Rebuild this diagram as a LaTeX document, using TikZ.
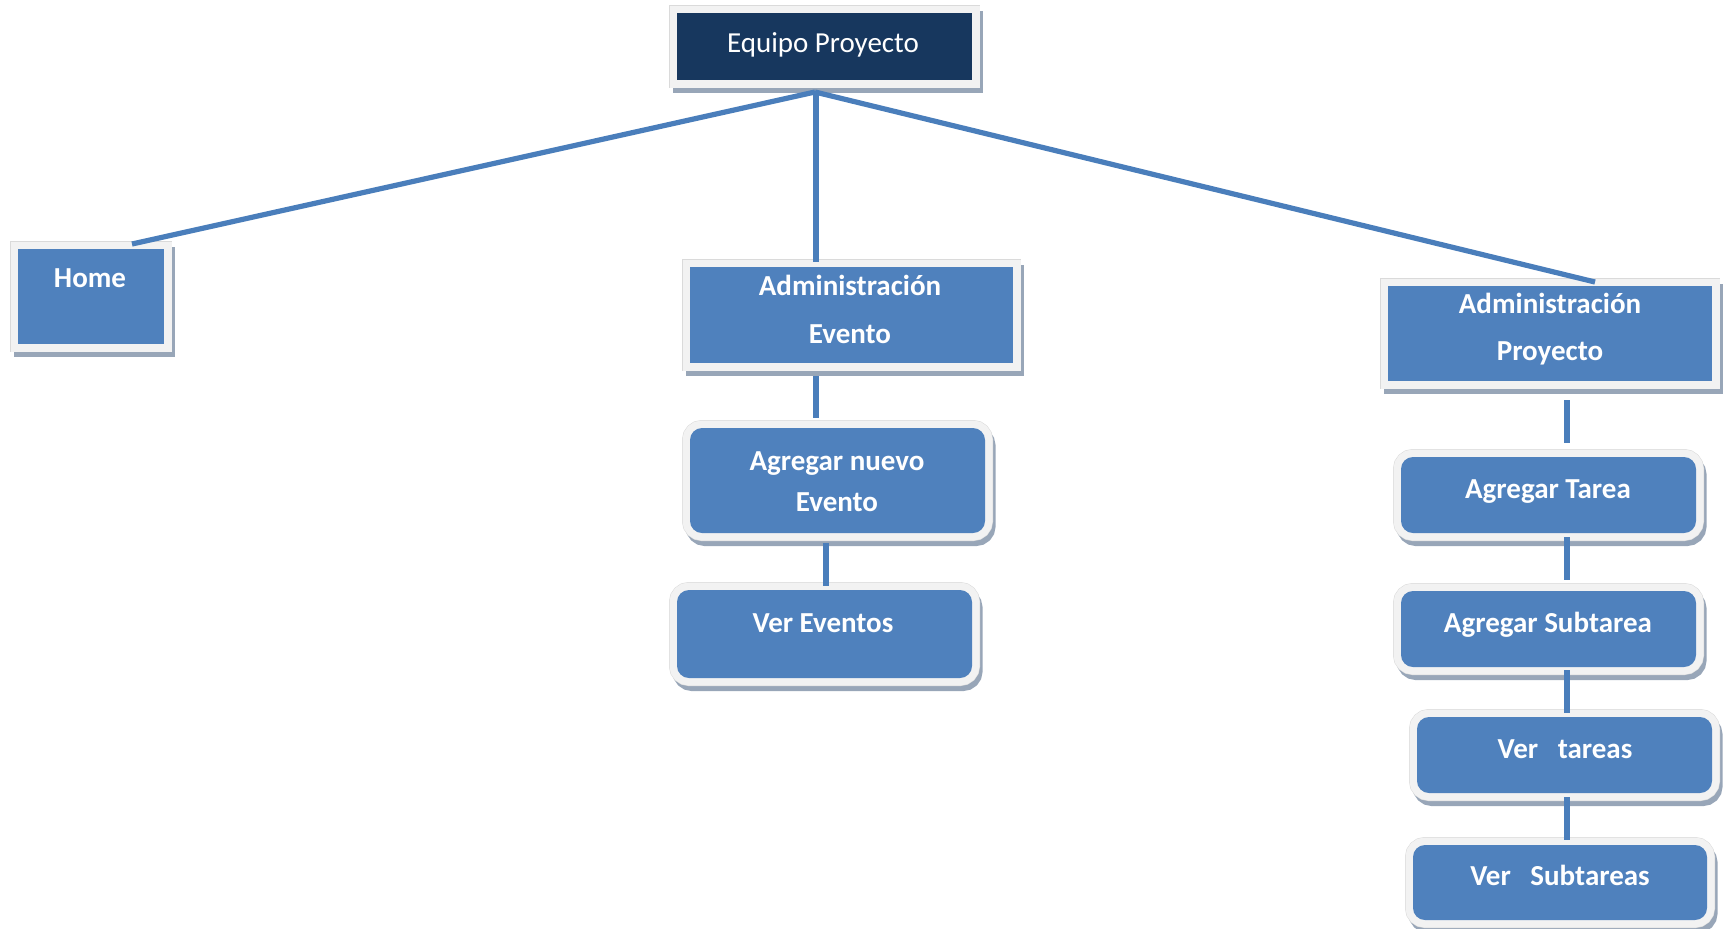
\documentclass[tikz,border=0pt]{standalone}
\usepackage{fontspec}
\setmainfont{Carlito}
\usetikzlibrary{fit,shadows,calc}

\definecolor{navy}{HTML}{17375E}
\definecolor{boxblue}{HTML}{4F81BD}
\definecolor{framegray}{HTML}{F2F2F2}
\definecolor{rimgray}{HTML}{DADADA}
\definecolor{shadowc}{HTML}{98A6B8}
\definecolor{linkc}{HTML}{4A7EBB}

\tikzset{
  panel/.style={rectangle, inner sep=0pt, outer sep=0pt, fill=#1,
    general shadow={fill=shadowc, draw=shadowc, line width=7.5pt,
      shadow xshift=1.5pt, shadow yshift=-2.75pt},
    preaction={draw=rimgray, line width=8pt},
    preaction={draw=framegray, line width=7.5pt}},
  panel/.default=boxblue,
  soft/.style={rounded corners=6pt},
  caption/.style={text=white, font=\bfseries\fontsize{14.5}{24}\selectfont,
    align=center, anchor=base, inner sep=0pt},
  link/.style={draw=linkc, line width=2.6pt},
}

\begin{document}
\begin{tikzpicture}[x=0.5pt, y=-0.5pt]
\useasboundingbox (0,0) rectangle (1726,928);

% boxes
\node[panel=navy, fit={(677,13) (972,80)}] (top) {};
\node[panel, fit={(18,249) (164,344)}] (home) {};
\node[panel, fit={(690,267) (1013,363)}] (admEv) {};
\node[panel, fit={(1388,286) (1712,381)}] (admPr) {};
\node[panel, soft, fit={(690,428) (985,533)}] (addEv) {};
\node[panel, soft, fit={(677,590) (972,678)}] (verEv) {};
\node[panel, soft, fit={(1401,457) (1696,533)}] (addT) {};
\node[panel, soft, fit={(1401,591) (1696,667)}] (addS) {};
\node[panel, soft, fit={(1417,717) (1712,793)}] (verT) {};
\node[panel, soft, fit={(1413,845) (1707,920)}] (verS) {};

% labels (base anchor = baseline of the last line)
\node[caption, font=\fontsize{14.5}{24}\selectfont] (topT) at (823,52) {Equipo Proyecto};
\node[caption] (homeT) at (90,287) {Home};
\node[caption, font=\bfseries\fontsize{14.5}{24}\selectfont] (admEvT) at (850,343) {Administración\\Evento};
\node[caption, font=\bfseries\fontsize{14.5}{23.5}\selectfont] (admPrT) at (1550,360) {Administración\\Proyecto};
\node[caption, font=\bfseries\fontsize{14.5}{20.5}\selectfont] (addEvT) at (837,511) {Agregar nuevo\\Evento};
\node[caption] (verEvT) at (823,632) {Ver Eventos};
\node[caption] (addTT) at (1548,498) {Agregar Tarea};
\node[caption] (addST) at (1548,632) {Agregar Subtarea};
\node[caption] (verTT) at (1565,758) {Ver~~~tareas};
\node[caption] (verST) at (1560,885) {Ver~~~Subtareas};

% tree links
\draw[link] ($(top.south)+(-9.5,12)$) -- ($(home.north)+(41,-5)$);
\draw[link] ($(top.south)+(-8.5,12)$) -- ($(admEv.north)+(-35.5,-5)$);
\draw[link] ($(top.south)+(-9.5,12)$) -- ($(admPr.north)+(45,-4)$);
\draw[link] ($(admEv.south)+(-35.5,13)$) -- ($(addEv.north)+(-21.5,-10)$);
\draw[link] ($(addEv.south)+(-11.5,10)$) -- ($(verEv.north)+(1.5,-4)$);
\draw[link] ($(admPr.south)+(17,19)$) -- ($(addT.north)+(18.5,-14)$);
\draw[link] ($(addT.south)+(18.5,4)$) -- ($(addS.north)+(18.5,-11)$);
\draw[link] ($(addS.south)+(18.5,3)$) -- ($(verT.north)+(2.5,-4)$);
\draw[link] ($(verT.south)+(2.5,4)$) -- ($(verS.north)+(7,-5)$);
\end{tikzpicture}
\end{document}
